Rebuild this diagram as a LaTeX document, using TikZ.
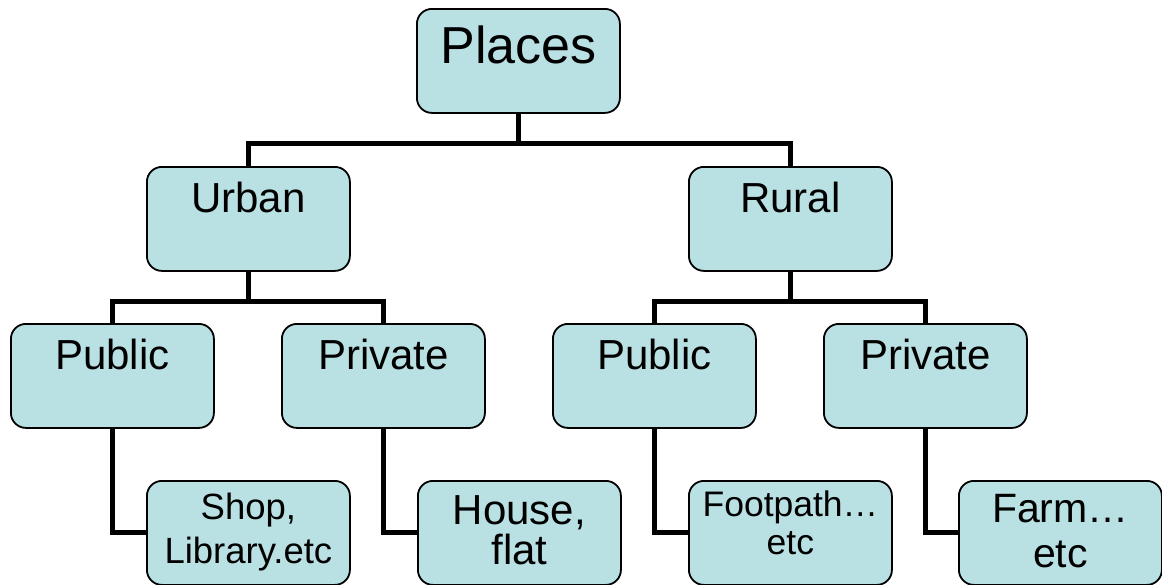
\documentclass[tikz,border=0pt]{standalone}
\usepackage{fontspec}
\setmainfont{Liberation Sans}
\usetikzlibrary{backgrounds}
\definecolor{boxblue}{RGB}{185,224,227}

\begin{document}
\begin{tikzpicture}[x=1pt,y=-1pt,
            box/.style={draw=black, line width=1.8pt, rounded corners=15pt, fill=boxblue,
                anchor=north west, minimum width=203pt, minimum height=104pt, inner sep=0pt},
            txt/.style={anchor=north, align=center, inner sep=0pt},
            link/.style={line width=5pt, black}]
            \useasboundingbox (0,0) rectangle (1162,584);
            % boxes
            \node[box] (places) at (416,8) {};
            \node[box] (urban) at (146,166) {};
            \node[box] (rural) at (688,166) {};
            \node[box] (upublic) at (10,323) {};
            \node[box] (uprivate) at (281,323) {};
            \node[box] (rpublic) at (552,323) {};
            \node[box] (rprivate) at (823,323) {};
            \node[box] (shop) at (146,480) {};
            \node[box] (house) at (417,480) {};
            \node[box] (footpath) at (688,480) {};
            \node[box] (farm) at (958,480) {};
            % texts
            \node[txt, font=\fontsize{52}{60}\selectfont] (places-t) at ([yshift=-18pt]places.north) {Places};
            \node[txt, font=\fontsize{42}{48}\selectfont] (urban-t) at ([yshift=-16pt]urban.north) {Urban};
            \node[txt, font=\fontsize{42}{48}\selectfont] (rural-t) at ([yshift=-16pt]rural.north) {Rural};
            \node[txt, font=\fontsize{42}{48}\selectfont] (upublic-t) at ([yshift=-16pt]upublic.north) {Public};
            \node[txt, font=\fontsize{42}{48}\selectfont] (uprivate-t) at ([yshift=-16pt]uprivate.north) {Private};
            \node[txt, font=\fontsize{42}{48}\selectfont] (rpublic-t) at ([yshift=-16pt]rpublic.north) {Public};
            \node[txt, font=\fontsize{42}{48}\selectfont] (rprivate-t) at ([yshift=-16pt]rprivate.north) {Private};
            \node[txt, font=\fontsize{36.5}{44}\selectfont] (shop-t) at ([yshift=-13pt]shop.north) {Shop,\\Library.etc};
            \node[txt, font=\fontsize{42}{40}\selectfont] (house-t) at ([yshift=-15pt]house.north) {House,\\flat};
            \node[txt, font=\fontsize{35.5}{38}\selectfont] (footpath-t) at ([yshift=-11pt]footpath.north) {Footpath…\\etc};
            \node[txt, font=\fontsize{41}{45}\selectfont] (farm-t) at ([yshift=-14pt]farm.north) {Farm…\\etc};
            % links behind the boxes
            \begin{scope}[on background layer]
            \draw[link] (places.south) -- ([yshift=-30pt]places.south);
            \draw[link] (urban.north) |- ([yshift=-30pt]places.south) -| (rural.north);
            \draw[link] (urban.south) -- ([yshift=-30pt]urban.south);
            \draw[link] (upublic.north) |- ([yshift=-30pt]urban.south) -| (uprivate.north);
            \draw[link] (rural.south) -- ([yshift=-30pt]rural.south);
            \draw[link] (rpublic.north) |- ([yshift=-30pt]rural.south) -| (rprivate.north);
            \draw[link] (upublic.south) |- (shop.west);
            \draw[link] (uprivate.south) |- (house.west);
            \draw[link] (rpublic.south) |- (footpath.west);
            \draw[link] (rprivate.south) |- (farm.west);
            \end{scope}
\end{tikzpicture}
\end{document}
